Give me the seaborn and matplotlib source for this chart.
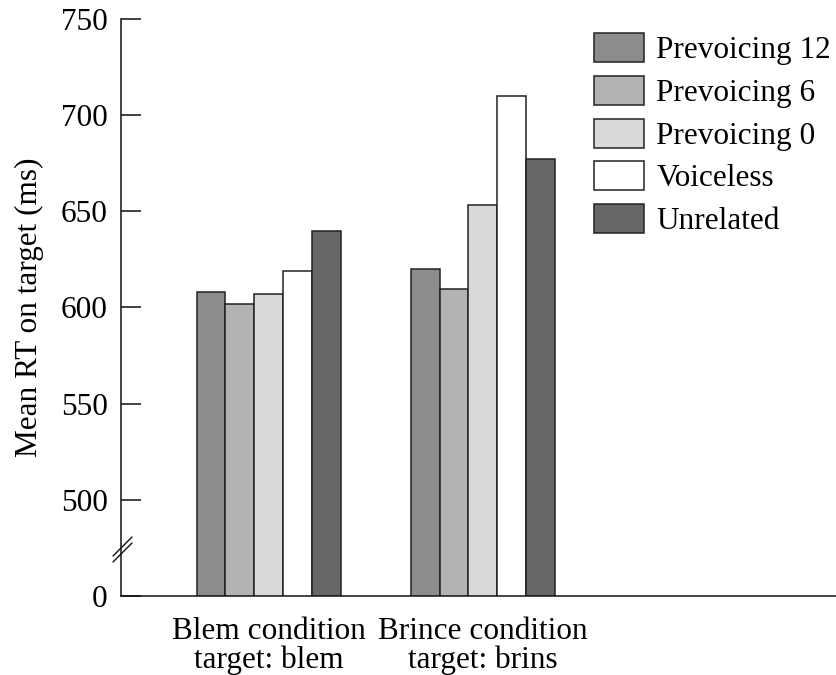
import matplotlib
matplotlib.use("Agg")
import matplotlib.pyplot as plt
import seaborn as sns
import pandas as pd

conditions = ["Blem condition\ntarget: blem", "Brince condition\ntarget: brins"]
primes = ["Prevoicing 12", "Prevoicing 6", "Prevoicing 0", "Voiceless", "Unrelated"]
blem_rt = [608, 602, 607, 619, 640]
brince_rt = [620, 609.5, 653, 710, 677]
colors = ["#8c8c8c", "#b3b3b3", "#d9d9d9", "#ffffff", "#666666"]
ytick_values = [450, 500, 550, 600, 650, 700, 750]
ytick_labels = ["0", "500", "550", "600", "650", "700", "750"]

df = pd.DataFrame({
    "condition": [conditions[0]] * 5 + [conditions[1]] * 5,
    "prime": primes * 2,
    "rt": blem_rt + brince_rt,
})

sns.set_style("white")
plt.rcParams["font.family"] = ["Liberation Serif", "DejaVu Serif"]
plt.rcParams["font.size"] = 22.5
plt.rcParams["text.color"] = "#000000"

FS = 22.5
fig = plt.figure(figsize=(8.36, 6.75), dpi=100)
ax = fig.add_axes([121 / 836, 79 / 675, 715 / 836, (596 - 18.9) / 675])

sns.barplot(data=df, x="condition", y="rt", hue="prime", order=conditions,
            hue_order=primes, palette=colors, width=0.673, dodge=True,
            edgecolor="#222222", linewidth=1.1, saturation=1, ax=ax, errorbar=None)

ax.set_ylim(450, 750)
ax.set_xlim(-0.69, 2.65)
ax.set_yticks(ytick_values)
ax.set_yticklabels(ytick_labels, fontsize=FS, color="black")
ax.set_xticks([0, 1])
ax.set_xticklabels(conditions, fontsize=FS, linespacing=1.0, color="black")
ax.tick_params(axis="y", left=True, direction="in", length=14.5, width=1.1,
               color="#111111", pad=9.5)
ax.tick_params(axis="x", bottom=False, length=0, pad=15)
ax.set_xlabel("")
ax.set_ylabel("Mean RT on target (ms)", fontsize=FS, labelpad=12, color="black")
for s in ["top", "right"]:
    ax.spines[s].set_visible(False)
for s in ["left", "bottom"]:
    ax.spines[s].set_color("#111111")
    ax.spines[s].set_linewidth(1.1)

# axis break marks
tr = fig.transFigure
for dy in (0, 6):
    x0, y0 = 113 / 836, 1 - (562 - dy) / 675
    x1, y1 = 132 / 836, 1 - (543 - dy) / 675
    fig.add_artist(plt.Line2D([x0, x1], [y0, y1], transform=tr, color="#111111", lw=1.0))

leg = ax.legend(loc="upper left", bbox_to_anchor=(594 / 836, 1 - 33 / 675),
                bbox_transform=fig.transFigure, frameon=False, fontsize=FS,
                handlelength=1.6, handleheight=1.05, handletextpad=0.4,
                labelspacing=0.34, borderpad=0, borderaxespad=0)
for t in leg.get_texts():
    t.set_color("black")

fig.savefig("out.png", dpi=100)
